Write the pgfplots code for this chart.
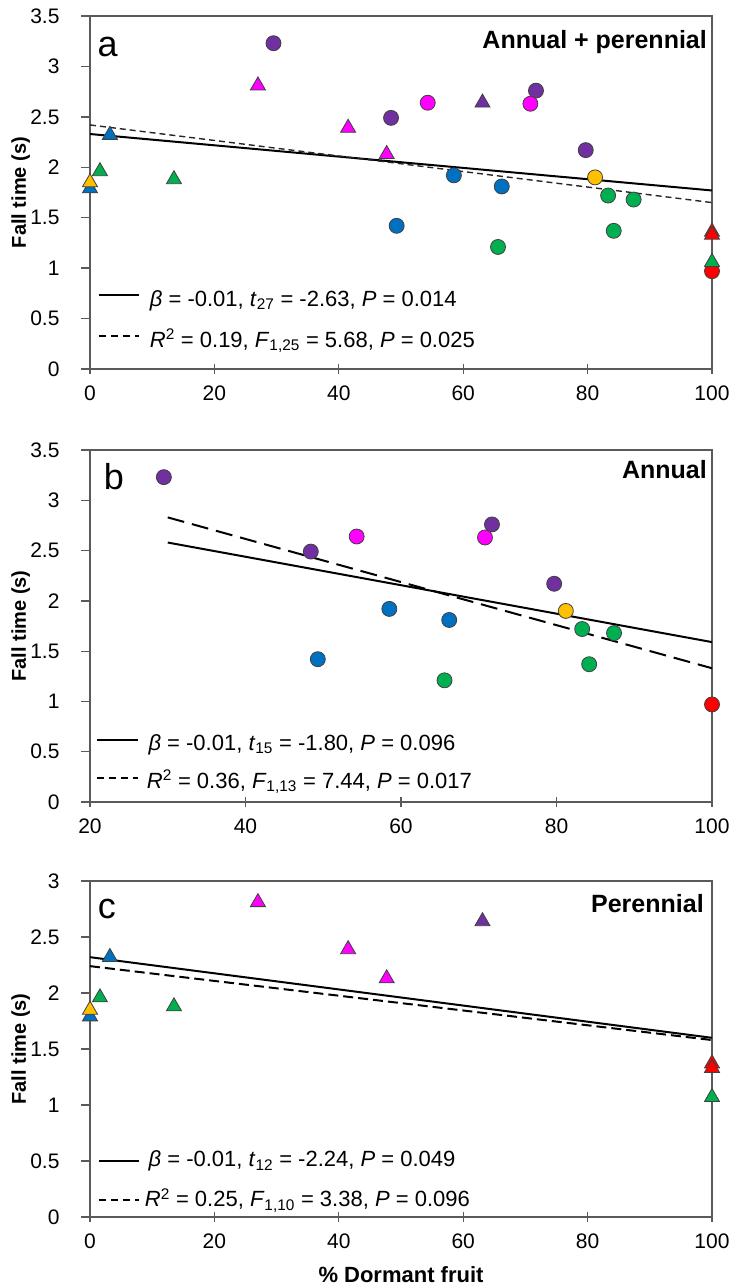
\documentclass[border=0pt]{standalone}
\usepackage{fontspec}
\setmainfont{Liberation Sans}
\usepackage{pgfplots}
\pgfplotsset{compat=1.18}

\definecolor{cpur}{HTML}{7030A0}
\definecolor{cmag}{HTML}{FF00FF}
\definecolor{cblu}{HTML}{0070C0}
\definecolor{cgrn}{HTML}{00B050}
\definecolor{cyel}{HTML}{FFC000}
\definecolor{cred}{HTML}{FF0000}
\definecolor{axgray}{HTML}{5A5A5A}

\newcommand{\legfont}{\fontsize{22}{25}\selectfont}

\tikzset{
  fitsolid/.style={black, line width=2pt},
  legdash/.style={black, line width=1.8pt, dash pattern=on 7pt off 5pt},
}
\pgfplotsset{
  panel/.style={
    scale only axis, width=622pt, clip=false,
    axis line style={axgray, line width=1.2pt},
    tick style={axgray, line width=1.3pt},
    tick align=center, major tick length=10pt,
    ytick style={xshift=-4pt},
    xtick pos=bottom, ytick pos=left,
    /pgf/number format/assume math mode=true,
    ticklabel style={font=\fontsize{21}{24}\selectfont},
    yticklabel shift=12pt,
    yticklabel style={xshift=-10pt},
    xticklabel style={yshift=-8pt},
    every axis y label/.style={at={(axis description cs:-0.1029,0.5)}, rotate=90, anchor=base,
      font=\bfseries\fontsize{20}{24}\selectfont},
    ylabel={Fall time (s)},
  },
  circ/.style={only marks, mark=*, mark size=7.5pt,
    mark options={draw=black!75, line width=0.8pt, fill=#1}},
  tri/.style={only marks, mark=triangle*, mark size=8.7pt,
    mark options={draw=black!75, line width=0.8pt, fill=#1}},
}

\begin{document}
\begin{tikzpicture}
\path[use as bounding box] (0pt,0pt) rectangle (732pt,-1285pt);

% ---------- a: annual + perennial
\begin{axis}[panel, at={(90pt,-369pt)}, anchor=south west, height=353pt,
  xmin=0, xmax=100, ymin=0, ymax=3.5,
  xtick={0,20,40,60,80,100}, ytick={0,0.5,1,1.5,2,2.5,3,3.5}]
% annual (circles)
\addplot[circ=cpur] coordinates {(29.5,3.23) (48.4,2.49) (71.7,2.76) (79.7,2.17)};
\addplot[circ=cmag] coordinates {(54.3,2.64) (70.8,2.63)};
\addplot[circ=cblu] coordinates {(58.5,1.92) (66.2,1.81) (49.3,1.42)};
\addplot[circ=cgrn] coordinates {(65.6,1.21) (83.3,1.72) (87.4,1.68) (84.2,1.37)};
\addplot[circ=cyel] coordinates {(81.2,1.90)};
\addplot[circ=cred] coordinates {(100,0.97)};
% perennial (triangles)
\addplot[tri=cblu] coordinates {(0,1.79) (3.2,2.32)};
\addplot[tri=cyel] coordinates {(0,1.85)};
\addplot[tri=cgrn] coordinates {(1.6,1.96) (13.5,1.88) (100,1.06)};
\addplot[tri=cred] coordinates {(100,1.36) (100,1.33)};
\addplot[tri=cmag] coordinates {(27,2.81) (41.5,2.39) (47.7,2.13)};
\addplot[tri=cpur] coordinates {(63.1,2.64)};
% fits
\addplot[fitsolid] coordinates {(0,2.33) (100,1.77)};
\addplot[black!85, line width=1.4pt, dash pattern=on 6pt off 4pt] coordinates {(0,2.42) (100,1.65)};
% legend
\draw[fitsolid] (axis cs:1.4,0.734) -- (axis cs:7.9,0.734);
\draw[legdash] (axis cs:1.4,0.327) -- (axis cs:7.9,0.327);
\node[anchor=base west, inner sep=0, font=\legfont] at (axis cs:9.6,0.624)
  {\textit{β} = -0.01, \textit{t}\textsubscript{27} = -2.63, \textit{P} = 0.014};
\node[anchor=base west, inner sep=0, font=\legfont] at (axis cs:9.6,0.218)
  {\textit{R}\textsuperscript{2} = 0.19, \textit{F}\textsubscript{1,25} = 5.68, \textit{P} = 0.025};
\node[anchor=base west, inner sep=0, font=\fontsize{36}{40}\selectfont] at (axis description cs:0.012,0.884) {a};
\node[anchor=base east, inner sep=0, font=\bfseries\fontsize{25}{30}\selectfont] at (axis description cs:0.992,0.909) {Annual + perennial};
\end{axis}

% ---------- b: annual
\begin{axis}[panel, at={(90pt,-802pt)}, anchor=south west, height=352pt,
  xmin=20, xmax=100, ymin=0, ymax=3.5,
  xtick={20,40,60,80,100}, ytick={0,0.5,1,1.5,2,2.5,3,3.5}]
\addplot[circ=cpur] coordinates {(29.5,3.23) (48.4,2.49) (71.7,2.76) (79.7,2.17)};
\addplot[circ=cmag] coordinates {(54.3,2.64) (70.8,2.63)};
\addplot[circ=cblu] coordinates {(58.5,1.92) (66.2,1.81) (49.3,1.42)};
\addplot[circ=cgrn] coordinates {(65.6,1.21) (83.3,1.72) (87.4,1.68) (84.2,1.37)};
\addplot[circ=cyel] coordinates {(81.2,1.90)};
\addplot[circ=cred] coordinates {(100,0.97)};
\addplot[fitsolid] coordinates {(30,2.58) (100,1.59)};
\addplot[black, line width=2pt, dash pattern=on 17pt off 8pt] coordinates {(30,2.83) (100,1.33)};
\draw[fitsolid] (axis cs:20.9,0.616) -- (axis cs:26.2,0.616);
\draw[legdash] (axis cs:20.9,0.239) -- (axis cs:26.2,0.239);
\node[anchor=base west, inner sep=0, font=\legfont] at (axis cs:27.5,0.517)
  {\textit{β} = -0.01, \textit{t}\textsubscript{15} = -1.80, \textit{P} = 0.096};
\node[anchor=base west, inner sep=0, font=\legfont] at (axis cs:27.3,0.139)
  {\textit{R}\textsuperscript{2} = 0.36, \textit{F}\textsubscript{1,13} = 7.44, \textit{P} = 0.017};
\node[anchor=base west, inner sep=0, font=\fontsize{36}{40}\selectfont] at (axis description cs:0.022,0.889) {b};
\node[anchor=base east, inner sep=0, font=\bfseries\fontsize{25}{30}\selectfont] at (axis description cs:0.992,0.920) {Annual};
\end{axis}

% ---------- c: perennial
\begin{axis}[panel, at={(90pt,-1217pt)}, anchor=south west, height=336pt,
  xmin=0, xmax=100, ymin=0, ymax=3,
  xtick={0,20,40,60,80,100}, ytick={0,0.5,1,1.5,2,2.5,3},
  xlabel={\% Dormant fruit},
  xlabel style={at={(axis description cs:0.5,-0.1935)}, anchor=base,
    font=\bfseries\fontsize{22}{26}\selectfont}]
\addplot[tri=cblu] coordinates {(0,1.79) (3.2,2.32)};
\addplot[tri=cyel] coordinates {(0,1.85)};
\addplot[tri=cgrn] coordinates {(1.6,1.96) (13.5,1.88) (100,1.07)};
\addplot[tri=cred] coordinates {(100,1.37) (100,1.33)};
\addplot[tri=cmag] coordinates {(27,2.81) (41.5,2.39) (47.7,2.13)};
\addplot[tri=cpur] coordinates {(63.1,2.64)};
\addplot[fitsolid] coordinates {(0,2.32) (100,1.60)};
\addplot[black, line width=2pt, dash pattern=on 10pt off 5pt] coordinates {(0,2.24) (100,1.58)};
\draw[fitsolid] (axis cs:1.4,0.50) -- (axis cs:7.9,0.50);
\draw[legdash] (axis cs:1.4,0.152) -- (axis cs:7.9,0.152);
\node[anchor=base west, inner sep=0, font=\legfont] at (axis cs:9.4,0.45)
  {\textit{β} = -0.01, \textit{t}\textsubscript{12} = -2.24, \textit{P} = 0.049};
\node[anchor=base west, inner sep=0, font=\legfont] at (axis cs:8.8,0.092)
  {\textit{R}\textsuperscript{2} = 0.25, \textit{F}\textsubscript{1,10} = 3.38, \textit{P} = 0.096};
\node[anchor=base west, inner sep=0, font=\fontsize{36}{40}\selectfont] at (axis description cs:0.0125,0.887) {c};
\node[anchor=base east, inner sep=0, font=\bfseries\fontsize{25}{30}\selectfont] at (axis description cs:0.987,0.905) {Perennial};
\end{axis}
\end{tikzpicture}
\end{document}
